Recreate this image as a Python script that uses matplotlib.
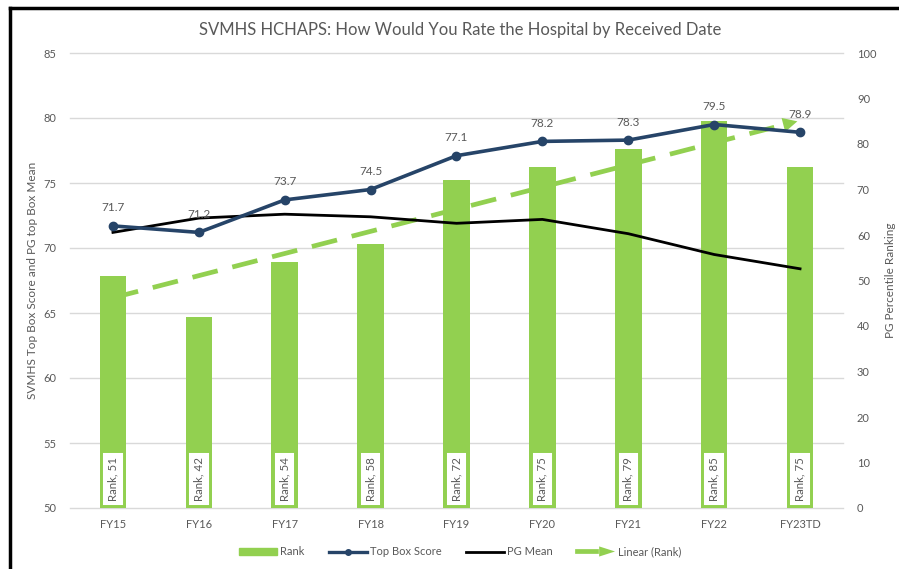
import matplotlib
matplotlib.use("Agg")
import matplotlib.pyplot as plt
import numpy as np
from matplotlib.lines import Line2D
from matplotlib.patches import Patch, Polygon
from matplotlib.legend_handler import HandlerBase
from matplotlib.transforms import blended_transform_factory

plt.rcParams['font.family'] = ['Lato', 'DejaVu Sans']

# data
years = ['FY15', 'FY16', 'FY17', 'FY18', 'FY19', 'FY20', 'FY21', 'FY22', 'FY23TD']
rank = [51, 42, 54, 58, 72, 75, 79, 85, 75]
top_box = [71.7, 71.2, 73.7, 74.5, 77.1, 78.2, 78.3, 79.5, 78.9]
pg_mean = [71.2, 72.3, 72.6, 72.4, 71.9, 72.2, 71.1, 69.5, 68.4]

GREEN = '#92D050'
NAVY = '#264468'
GRAY = '#595959'
GRID = '#D9D9D9'

x = np.arange(len(years))
# excel style linear trendline of rank
slope, icpt = np.polyfit(x, rank, 1)

fig = plt.figure(figsize=(8.99, 5.69), dpi=100)
ax = fig.add_axes([70 / 899, 61 / 569, 773 / 899, 455 / 569])
ax2 = ax.twinx()
ax.set_zorder(ax2.get_zorder() + 1)
ax.patch.set_visible(False)

# gridlines behind bars (left axis scale)
left_ticks = np.arange(50, 86, 5)
tr = blended_transform_factory(ax2.transAxes, ax.transData)
for v in left_ticks:
    ax2.plot([0, 1], [v, v], color=GRID, lw=1, transform=tr, zorder=0, clip_on=False)

ax2.bar(x, rank, width=0.31, color=GREEN, zorder=2)
for i, r in enumerate(rank):
    ax2.text(i, 6.4, f'Rank, {r}', rotation=90, ha='center', va='center',
             fontsize=8.3, color=GRAY, zorder=4,
             bbox=dict(boxstyle='square,pad=0.45', fc='white', ec=GREEN, lw=1.4))

# trendline with arrow head
xt = np.linspace(0, 7.7, 50)
ax2.plot(xt, slope * xt + icpt, color=GREEN, lw=3.4, dashes=(5.5, 3.2), zorder=3)
ax2.annotate('', xy=(8, slope * 8 + icpt), xytext=(7.6, slope * 7.6 + icpt),
             arrowprops=dict(arrowstyle='-|>', color=GREEN, lw=0, mutation_scale=26),
             zorder=3)

ax.plot(x, pg_mean, color='black', lw=2.0, zorder=3)
ax.plot(x, top_box, color=NAVY, lw=2.6, marker='o', ms=6, zorder=4)
for i, v in enumerate(top_box):
    ax.annotate(f'{v}', (i, v), xytext=(0, 9), textcoords='offset points',
                ha='center', va='bottom', fontsize=8.5, color=GRAY)

ax.set_xlim(-0.5, len(years) - 0.5)
ax.set_ylim(50, 85)
ax.set_yticks(left_ticks)
ax2.set_ylim(0, 100)
ax2.set_yticks(np.arange(0, 101, 10))
ax.set_xticks(x)
ax.set_xticklabels(years)

for a in (ax, ax2):
    for s in a.spines.values():
        s.set_visible(False)
    a.tick_params(length=0, colors=GRAY, labelsize=8)
ax.tick_params(axis='y', pad=10)
ax2.tick_params(axis='y', pad=10)
ax.tick_params(axis='x', pad=8)

ax.set_ylabel('SVMHS Top Box Score and PG top Box Mean', color=GRAY, fontsize=8.5, labelpad=4)
ax2.set_ylabel('PG Percentile Ranking', color=GRAY, fontsize=8.5, labelpad=6)

fig.text(0.512, 0.947, 'SVMHS HCHAPS: How Would You Rate the Hospital by Received Date',
         ha='center', va='center', fontsize=12, color=GRAY)


class TrendHandler(HandlerBase):
    def create_artists(self, legend, orig, xd, yd, w, h, fs, trans):
        y0 = h / 2 - yd
        ln = Line2D([-xd, -xd + w * 0.5], [y0, y0], color=GREEN, lw=3.4, transform=trans)
        tri = Polygon([[-xd + w * 0.58, y0 - h * 0.8], [-xd + w * 0.58, y0 + h * 0.8],
                       [-xd + w, y0]], closed=True, fc=GREEN, ec='none', transform=trans)
        return [ln, tri]


trend_h = Line2D([], [], color=GREEN)
handles = [Patch(color=GREEN),
           Line2D([], [], color=NAVY, lw=2.4, marker='o', ms=4),
           Line2D([], [], color='black', lw=2.0),
           trend_h]
labels = ['Rank', 'Top Box Score', 'PG Mean', 'Linear (Rank)']
leg = fig.legend(handles, labels, loc='center', bbox_to_anchor=(0.512, 0.03), ncol=4,
                 frameon=False, fontsize=8, handlelength=3.4, handleheight=0.5,
                 columnspacing=2.2, handletextpad=0.3,
                 handler_map={trend_h: TrendHandler()})
for t in leg.get_texts():
    t.set_color(GRAY)

# outer border (top and left)
fig.add_artist(Line2D([10 / 899, 1], [1 - 7.5 / 569] * 2, color='black', lw=2.5,
                      transform=fig.transFigure))
fig.add_artist(Line2D([10 / 899] * 2, [0, 1 - 7.5 / 569], color='black', lw=2.5,
                      transform=fig.transFigure))

fig.savefig('out.png', dpi=100)
